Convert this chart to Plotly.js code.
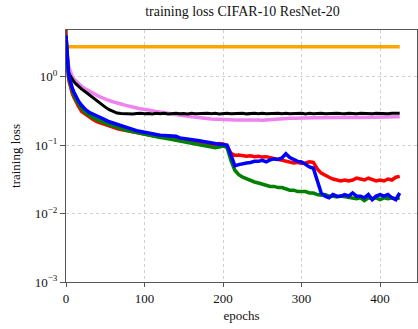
<!DOCTYPE html>
<html>
<head>
<meta charset="utf-8">
<script src="https://cdn.plot.ly/plotly-3.0.1.min.js"></script>
<style>
  html, body { margin: 0; padding: 0; background: #fff; }
  #chart { width: 418px; height: 329px; }
</style>
</head>
<body>
<div id="chart"></div>
<script>
// epochs shared by the noisy training curves
const epochs = [0, 1, 2, 3, 4, 6, 8, 10, 13, 16,
    20, 25, 30, 35, 40, 45, 50, 55, 60, 65,
    70, 75, 80, 85, 90, 95, 100, 105, 110, 115,
    120, 125, 130, 135, 140, 145, 150, 155, 160, 165,
    170, 175, 180, 185, 190, 195, 200, 205, 210, 215,
    220, 225, 230, 235, 240, 245, 250, 255, 260, 265,
    270, 275, 280, 285, 290, 295, 300, 305, 310, 315,
    320, 325, 330, 335, 340, 345, 350, 355, 360, 365,
    370, 375, 380, 385, 390, 395, 400, 405, 410, 415,
    420, 425];

const redLoss = [4.0, 2.0, 1.3, 1.0, 0.85, 0.68, 0.57, 0.5, 0.42, 0.37,
    0.31, 0.28, 0.255, 0.235, 0.22, 0.21, 0.2, 0.19, 0.18, 0.175,
    0.17, 0.165, 0.16, 0.155, 0.15, 0.148, 0.145, 0.142, 0.138, 0.136,
    0.133, 0.13, 0.128, 0.126, 0.122, 0.12, 0.118, 0.116, 0.113, 0.111,
    0.108, 0.106, 0.103, 0.1, 0.102, 0.106, 0.104, 0.098, 0.076, 0.071,
    0.072, 0.07, 0.069, 0.07, 0.068, 0.069, 0.067, 0.068, 0.066, 0.064,
    0.062, 0.06, 0.058, 0.057, 0.055, 0.056, 0.054, 0.055, 0.057, 0.056,
    0.045, 0.039, 0.036, 0.034, 0.032, 0.031, 0.03, 0.031, 0.03, 0.031,
    0.033, 0.032, 0.031, 0.033, 0.031, 0.03, 0.031, 0.03, 0.032, 0.031,
    0.034, 0.035];

const greenLoss = [4.0, 2.1, 1.4, 1.1, 0.92, 0.74, 0.62, 0.54, 0.46, 0.4,
    0.34, 0.3, 0.27, 0.25, 0.235, 0.22, 0.21, 0.2, 0.19, 0.182,
    0.175, 0.168, 0.162, 0.157, 0.152, 0.148, 0.144, 0.14, 0.136, 0.133,
    0.129, 0.127, 0.124, 0.12, 0.117, 0.115, 0.112, 0.109, 0.106, 0.104,
    0.1, 0.098, 0.096, 0.093, 0.092, 0.094, 0.097, 0.093, 0.06, 0.043,
    0.037, 0.034, 0.032, 0.031, 0.029, 0.028, 0.027, 0.026, 0.025, 0.025,
    0.024, 0.024, 0.023, 0.022, 0.022, 0.021, 0.021, 0.021, 0.02, 0.02,
    0.019, 0.0185, 0.019, 0.018, 0.018, 0.0175, 0.018, 0.0175, 0.017, 0.017,
    0.0165, 0.017, 0.0155, 0.017, 0.0165, 0.017, 0.016, 0.017, 0.0165, 0.017,
    0.0165, 0.017];

const blueLoss = [4.0, 2.2, 1.5, 1.2, 1.0, 0.8, 0.68, 0.6, 0.5, 0.44,
    0.38, 0.33, 0.3, 0.28, 0.265, 0.25, 0.235, 0.22, 0.21, 0.2,
    0.19, 0.183, 0.176, 0.17, 0.163, 0.158, 0.153, 0.15, 0.148, 0.143,
    0.14, 0.138, 0.136, 0.133, 0.135, 0.128, 0.126, 0.124, 0.12, 0.118,
    0.116, 0.113, 0.11, 0.108, 0.105, 0.103, 0.102, 0.1, 0.072, 0.05,
    0.052, 0.054, 0.055, 0.056, 0.058, 0.058, 0.06, 0.057, 0.061, 0.063,
    0.062, 0.065, 0.075, 0.066, 0.062, 0.058, 0.057, 0.052, 0.048, 0.046,
    0.03, 0.02, 0.018, 0.017, 0.019, 0.018, 0.018, 0.019, 0.018, 0.02,
    0.018, 0.018, 0.017, 0.019, 0.016, 0.018, 0.019, 0.018, 0.019, 0.017,
    0.016, 0.02];

const blackLoss = [3.5, 2.2, 1.5, 1.2, 1.1, 1.0, 0.92, 0.85, 0.78, 0.72,
    0.66, 0.6, 0.54, 0.49, 0.44, 0.4, 0.36, 0.33, 0.31, 0.295,
    0.29, 0.288, 0.292, 0.285, 0.29, 0.294, 0.288, 0.291, 0.286, 0.292,
    0.289, 0.293, 0.287, 0.29, 0.294, 0.288, 0.291, 0.286, 0.293, 0.289,
    0.291, 0.287, 0.294, 0.289, 0.292, 0.286, 0.29, 0.293, 0.288, 0.291,
    0.289, 0.294, 0.287, 0.29, 0.292, 0.288, 0.293, 0.289, 0.291, 0.287,
    0.292, 0.289, 0.294, 0.288, 0.291, 0.29, 0.293, 0.287, 0.292, 0.289,
    0.291, 0.294, 0.288, 0.292, 0.289, 0.293, 0.29, 0.288, 0.294, 0.291,
    0.289, 0.293, 0.29, 0.292, 0.288, 0.294, 0.29, 0.292, 0.289, 0.293,
    0.291, 0.294];

const violetLoss = [3.5, 2.4, 1.8, 1.5, 1.35, 1.15, 1.0, 0.93, 0.85, 0.79,
    0.72, 0.66, 0.61, 0.57, 0.53, 0.5, 0.47, 0.45, 0.43, 0.42,
    0.4, 0.385, 0.37, 0.36, 0.35, 0.34, 0.335, 0.325, 0.32, 0.31,
    0.305, 0.3, 0.295, 0.29, 0.285, 0.278, 0.27, 0.265, 0.26, 0.255,
    0.25, 0.248, 0.245, 0.242, 0.24, 0.24, 0.238, 0.236, 0.235, 0.233,
    0.234, 0.232, 0.233, 0.231, 0.232, 0.233, 0.232, 0.235, 0.238, 0.24,
    0.242, 0.244, 0.245, 0.247, 0.248, 0.25, 0.249, 0.251, 0.25, 0.252,
    0.251, 0.253, 0.252, 0.254, 0.253, 0.255, 0.254, 0.256, 0.254, 0.255,
    0.256, 0.254, 0.255, 0.257, 0.255, 0.256, 0.254, 0.257, 0.256, 0.258,
    0.257, 0.26];

// flat orange run and the diverging brown one (only visible at epoch 0)
const orangeEpochs = [2, 425];
const orangeLoss = [2.75, 2.75];
const brownEpochs = [0, 0.5];
const brownLoss = [8, 3.6];

const yTickVals = [0.001, 0.01, 0.1, 1];
const yTickText = ['10<sup>−3</sup>', '10<sup>−2</sup>', '10<sup>−1</sup>', '10<sup>0</sup>'];
const xTickVals = [0, 100, 200, 300, 400];

const series = [
    { x: brownEpochs, y: brownLoss, color: '#a52a2a', width: 3 },
    { x: orangeEpochs, y: orangeLoss, color: '#ffa500', width: 3.5 },
    { x: epochs, y: violetLoss, color: '#ee82ee', width: 3.5 },
    { x: epochs, y: blackLoss, color: '#000000', width: 3 },
    { x: epochs, y: redLoss, color: '#ff0000', width: 3.5 },
    { x: epochs, y: greenLoss, color: '#008000', width: 3.5 },
    { x: epochs, y: blueLoss, color: '#0000ff', width: 3.5 }
];

const traces = series.map(s => ({
    x: s.x,
    y: s.y,
    type: 'scatter',
    mode: 'lines',
    line: { color: s.color, width: s.width },
    showlegend: false,
    hoverinfo: 'skip'
}));

const serif = 'Liberation Serif, DejaVu Serif, serif';

const layout = {
    width: 418,
    height: 329,
    margin: { l: 66, r: 1, t: 30, b: 47 },
    paper_bgcolor: '#fff',
    plot_bgcolor: '#fff',
    font: { family: serif, size: 13, color: '#111' },
    title: {
        text: 'training loss CIFAR-10 ResNet-20',
        font: { family: serif, size: 14, color: '#111' },
        x: 0.58, xanchor: 'center',
        y: 0.965, yanchor: 'middle'
    },
    xaxis: {
        range: [0, 447],
        tickvals: xTickVals,
        ticks: 'outside', ticklen: 4, tickcolor: '#555',
        showline: true, linecolor: '#555', linewidth: 1, mirror: true,
        showgrid: true, gridcolor: '#d0d0d0', griddash: 'dot', gridwidth: 1,
        zeroline: false,
        tickfont: { family: serif, size: 13 },
        title: { text: 'epochs', font: { family: serif, size: 13 }, standoff: 6 }
    },
    yaxis: {
        type: 'log',
        range: [-3, 0.684],
        tickvals: yTickVals,
        ticktext: yTickText,
        ticks: 'outside', ticklen: 5, tickcolor: '#555',
        showline: true, linecolor: '#555', linewidth: 1, mirror: true,
        showgrid: true, gridcolor: '#d0d0d0', griddash: 'dot', gridwidth: 1,
        zeroline: false,
        tickfont: { family: serif, size: 13 },
        title: { text: 'training loss', font: { family: serif, size: 13 }, standoff: 11 }
    }
};

Plotly.newPlot('chart', traces, layout, { displayModeBar: false, staticPlot: true });
</script>
</body>
</html>
